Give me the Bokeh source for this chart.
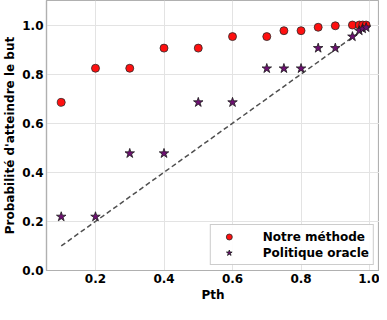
from bokeh.plotting import figure
from bokeh.models import FixedTicker, PrintfTickFormatter, Range1d, ColumnDataSource
from bokeh.embed import file_html
from bokeh.resources import INLINE

# Data
pth = [0.1, 0.2, 0.3, 0.4, 0.5, 0.6, 0.7, 0.75, 0.8, 0.85, 0.9, 0.95, 0.97, 0.98, 0.99]
notre_methode = [0.685, 0.824, 0.824, 0.906, 0.906, 0.953, 0.953, 0.977, 0.977, 0.991, 0.997, 1.0, 1.0, 1.0, 1.0]
politique_oracle = [0.219, 0.219, 0.477, 0.477, 0.685, 0.685, 0.823, 0.823, 0.823, 0.906, 0.906, 0.953, 0.977, 0.985, 0.99]
diag_x = [0.1, 0.99]
diag_y = [0.1, 0.99]
x_ticks = [0.2, 0.4, 0.6, 0.8, 1.0]
y_ticks = [0.0, 0.2, 0.4, 0.6, 0.8, 1.0]

FONT = "DejaVu Sans"

p = figure(width=379, height=304, output_backend="svg", toolbar_location=None,
           x_range=Range1d(0.057, 1.029), y_range=Range1d(0.0, 1.1),
           min_border_left=0, min_border_right=0, min_border_top=0, min_border_bottom=0)

p.background_fill_color = "white"
p.border_fill_color = "white"
p.outline_line_color = "#b0b0b0"
p.outline_line_width = 1.2

src_diag = ColumnDataSource(dict(x=diag_x, y=diag_y))
p.line("x", "y", source=src_diag, line_color="#505050", line_width=1.5, line_dash="5 3")

src = ColumnDataSource(dict(x=pth, a=notre_methode, b=politique_oracle))
p.scatter("x", "a", source=src, marker="circle", size=8, fill_color="#ff1010",
          line_color="#2a2a2a", line_width=0.8, legend_label="Notre méthode")
p.scatter("x", "b", source=src, marker="star", size=10, fill_color="#6e1072",
          line_color="#1a1a1a", line_width=0.8, legend_label="Politique oracle")

for ax in (p.xaxis, p.yaxis):
    ax.axis_line_color = "#b0b0b0"
    ax.axis_line_width = 1.2
    ax.major_tick_line_color = None
    ax.minor_tick_line_color = None
    ax.major_tick_out = 0
    ax.major_tick_in = 0
    ax.minor_tick_out = 0
    ax.minor_tick_in = 0
    ax.major_label_text_font = FONT
    ax.major_label_text_font_style = "bold"
    ax.major_label_text_font_size = "12px"
    ax.major_label_text_color = "black"
    ax.major_label_text_line_height = 1.0
    ax.axis_label_text_font = FONT
    ax.axis_label_text_font_style = "bold"
    ax.axis_label_text_font_size = "12px"
    ax.axis_label_text_color = "black"
    ax.axis_label_text_line_height = 1.0
    ax.formatter = PrintfTickFormatter(format="%.1f")
    ax.major_label_standoff = 3
    ax.axis_label_standoff = 2

p.xaxis.ticker = FixedTicker(ticks=x_ticks)
p.yaxis.ticker = FixedTicker(ticks=y_ticks)
p.xaxis.axis_label = "Pth"
p.yaxis.axis_label = "Probabilité d'atteindre le but"

p.xgrid.ticker = FixedTicker(ticks=x_ticks)
p.ygrid.ticker = FixedTicker(ticks=y_ticks)
for g in (p.xgrid, p.ygrid):
    g.grid_line_color = "#e3e3e3"
    g.grid_line_width = 1

lg = p.legend[0]
lg.location = "bottom_right"
lg.margin = 5
lg.padding = 4
lg.spacing = 1
lg.glyph_width = 28
lg.glyph_height = 15
lg.label_height = 15
lg.label_standoff = 20
lg.label_text_font = FONT
lg.label_text_font_style = "bold"
lg.label_text_font_size = "12px"
lg.label_text_color = "black"
lg.border_line_color = "#9a9a9a"
lg.border_line_width = 1
lg.background_fill_color = "white"
lg.background_fill_alpha = 0.9

open("out.html", "w").write(file_html(p, INLINE))
